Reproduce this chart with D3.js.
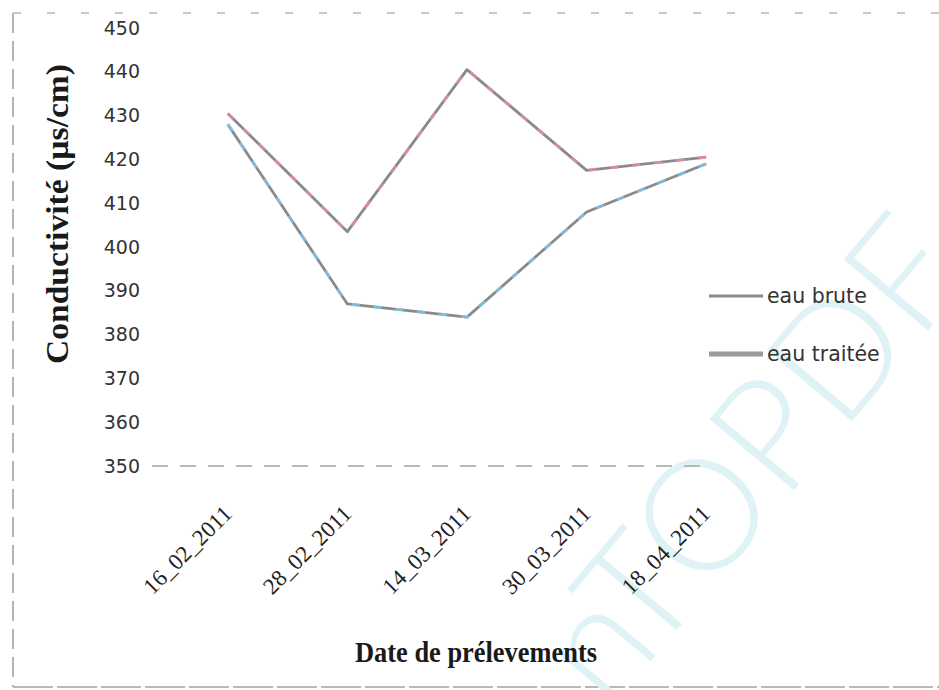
<!DOCTYPE html>
<html>
<head>
<meta charset="utf-8">
<script src="https://cdn.jsdelivr.net/npm/d3@7"></script>
<style>
  html, body { margin: 0; padding: 0; background: #fff; }
  svg { display: block; }
</style>
</head>
<body>
<svg id="chart" width="939" height="690"></svg>
<script>
// Sampling dates and conductivity readings (µS/cm)
const dates = ["16_02_2011", "28_02_2011", "14_03_2011", "30_03_2011", "18_04_2011"];
const eauBrute = [430.5, 403.5, 440.5, 417.5, 420.5];
const eauTraitee = [428, 387, 384, 408, 419];
const seriesNames = ["eau brute", "eau traitée"];
const yTicks = [350, 360, 370, 380, 390, 400, 410, 420, 430, 440, 450];

const svg = d3.select("#chart");

// Page frame
const frame = svg.append("g").attr("fill", "none");
frame.append("line").attr("x1", 13).attr("x2", 939).attr("y1", 13).attr("y2", 13)
  .attr("stroke", "#c8c8c8").attr("stroke-width", 2).attr("stroke-dasharray", "8 26");
frame.append("line").attr("x1", 13).attr("x2", 13).attr("y1", 13).attr("y2", 687)
  .attr("stroke", "#b4b4b4").attr("stroke-width", 2).attr("stroke-dasharray", "20 8");
frame.append("line").attr("x1", 13).attr("x2", 939).attr("y1", 687).attr("y2", 687)
  .attr("stroke", "#b8b8b8").attr("stroke-width", 2).attr("stroke-dasharray", "40 4");

// Faint diagonal watermark
svg.append("text")
  .attr("transform", "translate(608,712) rotate(-50)")
  .attr("font-family", "Lato, 'Open Sans', sans-serif")
  .attr("font-weight", 300)
  .attr("font-size", 156)
  .attr("fill", "#dff3f6")
  .text("nTOPDF");

// Scales
const x = d3.scalePoint().domain(dates).range([168, 766]).padding(0.5);
const y = d3.scaleLinear().domain([350, 450]).range([466, 28]);

// Y axis labels (no axis line)
const yAxis = svg.append("g")
  .attr("transform", "translate(140,0)")
  .call(d3.axisLeft(y).tickValues(yTicks).tickSize(0).tickPadding(0).tickFormat(d3.format("d")));
yAxis.select(".domain").remove();
yAxis.selectAll("text")
  .attr("font-family", "'DejaVu Sans', sans-serif")
  .attr("font-size", 19)
  .attr("fill", "#333");

// X axis: dashed base line and rotated date labels
svg.append("line")
  .attr("x1", 152).attr("x2", 712)
  .attr("y1", y(350)).attr("y2", y(350))
  .attr("stroke", "#b8b8b8").attr("stroke-width", 2).attr("stroke-dasharray", "16 12");

const xAxis = svg.append("g")
  .attr("transform", `translate(0,${y(350)})`)
  .call(d3.axisBottom(x).tickSize(0).tickPadding(0));
xAxis.select(".domain").remove();
xAxis.selectAll("text")
  .attr("font-family", "'Liberation Serif', 'Times New Roman', serif")
  .attr("font-size", 23)
  .attr("fill", "#222")
  .attr("text-anchor", "end")
  .attr("dy", null)
  .attr("y", null)
  .attr("transform", "translate(5,49) rotate(-45)");

// Axis titles
svg.append("text")
  .attr("transform", `translate(68,${214}) rotate(-90)`)
  .attr("text-anchor", "middle")
  .attr("font-family", "'Liberation Serif', 'Times New Roman', serif")
  .attr("font-weight", "bold")
  .attr("font-size", 32)
  .attr("textLength", 300)
  .attr("lengthAdjust", "spacingAndGlyphs")
  .attr("fill", "#1a1a1a")
  .text("Conductivité (µs/cm)");

svg.append("text")
  .attr("x", 476).attr("y", 662)
  .attr("text-anchor", "middle")
  .attr("font-family", "'Liberation Serif', 'Times New Roman', serif")
  .attr("font-weight", "bold")
  .attr("font-size", 30)
  .attr("textLength", 242)
  .attr("lengthAdjust", "spacingAndGlyphs")
  .attr("fill", "#1a1a1a")
  .text("Date de prélevements");

// Series lines: grey stroke with coloured tint
const line = d3.line().x((d, i) => x(dates[i])).y(d => y(d));
const series = [
  { name: seriesNames[0], values: eauBrute, tint: "#e88aaa" },
  { name: seriesNames[1], values: eauTraitee, tint: "#7cc8f0" }
];
const lines = svg.append("g").attr("fill", "none").attr("stroke-linejoin", "round");
series.forEach(s => {
  lines.append("path").attr("d", line(s.values))
    .attr("stroke", "#8a8a8a").attr("stroke-width", 2.8);
  lines.append("path").attr("d", line(s.values))
    .attr("stroke", s.tint).attr("stroke-width", 2.8)
    .attr("stroke-dasharray", "8 14").attr("opacity", 0.8);
});

// Legend
const legend = svg.append("g");
const legendRows = [
  { name: seriesNames[0], y: 296, width: 3, color: "#8a8a8a" },
  { name: seriesNames[1], y: 354, width: 5, color: "#9a9a9a" }
];
legendRows.forEach(r => {
  legend.append("line")
    .attr("x1", 709).attr("x2", 763).attr("y1", r.y).attr("y2", r.y)
    .attr("stroke", r.color).attr("stroke-width", r.width);
  legend.append("text")
    .attr("x", 767).attr("y", r.y).attr("dy", "0.35em")
    .attr("font-family", "'DejaVu Sans', sans-serif")
    .attr("font-size", 20.5)
    .attr("fill", "#333")
    .text(r.name);
});
</script>
</body>
</html>
